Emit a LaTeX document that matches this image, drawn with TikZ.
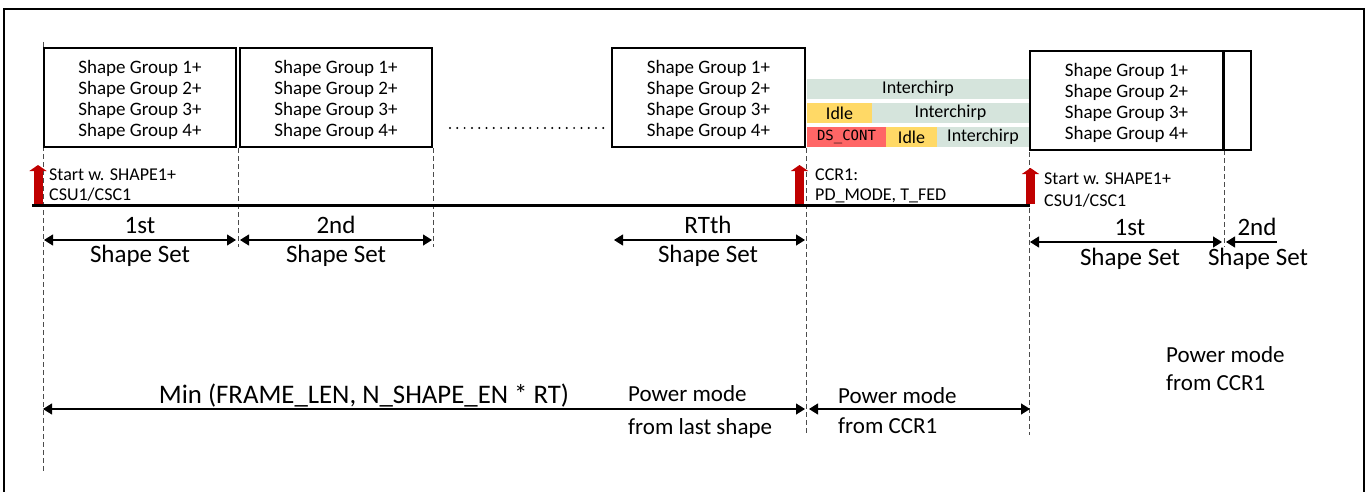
\documentclass[tikz,border=0pt]{standalone}
\usepackage{fontspec}
\setmainfont{Carlito}
\setmonofont{DejaVu Sans Mono}
\usetikzlibrary{arrows.meta}
\definecolor{chirpgreen}{RGB}{213,228,220}
\definecolor{idleyellow}{RGB}{255,217,102}
\definecolor{dsred}{RGB}{255,102,102}
\definecolor{arrowred}{RGB}{192,0,0}
\newcommand{\fsz}[1]{\fontsize{#1}{#1}\selectfont}
\newcommand{\sgtxt}{\rule{0pt}{19pt}Shape Group 1+\\Shape Group 2+\\Shape Group 3+\\Shape Group 4+}
\begin{document}
\begin{tikzpicture}[x=1pt,y=-1pt,
  sg/.style={draw, line width=1.2pt, inner sep=0pt, align=center, font=\fontsize{19}{21}\selectfont},
  seg/.style={inner sep=0pt, minimum height=20pt, font=\fsz{18}},
  chirp/.style={seg, fill=chirpgreen},
  idle/.style={seg, fill=idleyellow},
  dsbox/.style={seg, fill=dsred, font=\fsz{14}\ttfamily},
  guide/.style={dash pattern=on 5pt off 3pt, line width=0.8pt, draw=black!70},
  dim/.style={line width=1.2pt, {Triangle[length=9pt,width=11pt]}-{Triangle[length=9pt,width=11pt]}},
  dimleft/.style={line width=1.2pt, {Triangle[length=9pt,width=11pt]}-},
  redup/.style={draw=arrowred, line width=9pt, -{Triangle[length=6pt,width=17pt]}},
  note/.style={anchor=base west, inner sep=0pt, font=\fsz{18}},
  setlbl/.style={anchor=base, inner sep=0pt, font=\fsz{25}},
  pm/.style={anchor=base west, inner sep=0pt, font=\fsz{23}}
]
\useasboundingbox (0,0) rectangle (1370,492);
% outer frame
\draw[line width=2pt] (4,492) -- (4,9) -- (1364,9) -- (1364,492);

% guide lines
\coordinate (g1t) at (43,42);    \coordinate (g1b) at (43,472);
\coordinate (g2t) at (238,148);  \coordinate (g2b) at (238,247);
\coordinate (g3t) at (433,148);  \coordinate (g3b) at (433,247);
\coordinate (g4t) at (806,148);  \coordinate (g4b) at (806,435);
\coordinate (g5t) at (1029,72);  \coordinate (g5b) at (1029,435);
\coordinate (g6t) at (1224,150); \coordinate (g6b) at (1224,247);
\draw[guide] (g1t) -- (g1b);
\draw[guide] (g2t) -- (g2b);
\draw[guide] (g3t) -- (g3b);
\draw[guide] (g4t) -- (g4b);
\draw[guide] (g5t) -- (g5b);
\draw[guide] (g6t) -- (g6b);

% shape group boxes
\node[sg, minimum width=192pt, minimum height=99pt] (b1) at (140,97.5) {\sgtxt};
\node[sg, minimum width=192pt, minimum height=99pt] (b2) at (336,97.5) {\sgtxt};
\node[sg, minimum width=193pt, minimum height=99pt] (b3) at (708.5,97.5) {\sgtxt};
\node[sg, minimum width=193pt, minimum height=99pt] (b4) at (1126.5,100.5) {\sgtxt};
\node[sg, minimum width=27pt, minimum height=99pt] (b5) at (1237.5,100.5) {};

% dotted continuation
\coordinate (dotL) at (450,128);
\coordinate (dotR) at (610,128);
\draw[line width=2.2pt, line cap=round, dash pattern=on 0pt off 7.3pt] (dotL) -- (dotR);

% interchirp rows
\node[chirp, minimum width=222pt] (ic1) at (918,89) {Interchirp};
\node[idle, minimum width=65pt] (id2) at (839.5,113) {Idle};
\node[chirp, minimum width=157pt] (ic2) at (950.5,113) {Interchirp};
\node[dsbox, minimum width=79pt] (ds3) at (846.5,137) {DS\_CONT};
\node[idle, minimum width=51pt] (id3) at (911.5,137) {Idle};
\node[chirp, minimum width=92pt] (ic3) at (983,137) {Interchirp};

% timeline
\coordinate (tl0) at (32,205);
\coordinate (tl1) at (1030,205);
\draw[line width=3pt] (tl0) -- (tl1);

% red start arrows
\coordinate (r1b) at (38,203.5);   \coordinate (r1t) at (38,165);
\coordinate (r2b) at (799.5,203.5); \coordinate (r2t) at (799.5,165);
\coordinate (r3b) at (1030.5,203.5); \coordinate (r3t) at (1030.5,168);
\draw[redup] (r1b) -- (r1t);
\draw[redup] (r2b) -- (r2t);
\draw[redup] (r3b) -- (r3t);

% notes by the arrows
\node[note] (n1a) at (49,180) {Start w. SHAPE1+};
\node[note] (n1b) at (49,200.5) {CSU1/CSC1};
\node[note] (n2a) at (815,180.5) {CCR1:};
\node[note] (n2b) at (815,200.5) {PD\_MODE, T\_FED};
\node[note] (n3a) at (1044,184) {Start w. SHAPE1+};
\node[note] (n3b) at (1044,206) {CSU1/CSC1};

% shape set dimension arrows
\coordinate (s1l) at (44,240);   \coordinate (s1r) at (236,240);
\coordinate (s2l) at (240,240);  \coordinate (s2r) at (432,240);
\coordinate (s3l) at (614,240);  \coordinate (s3r) at (805,240);
\coordinate (s4l) at (1030,242); \coordinate (s4r) at (1222,242);
\coordinate (s5l) at (1226,242); \coordinate (s5r) at (1277,242);
\draw[dim] (s1l) -- (s1r);
\draw[dim] (s2l) -- (s2r);
\draw[dim] (s3l) -- (s3r);
\draw[dim] (s4l) -- (s4r);
\draw[dimleft] (s5l) -- (s5r);

\node[setlbl] (l1a) at (140,233) {1st};
\node[setlbl] (l1b) at (140,262) {Shape Set};
\node[setlbl] (l2a) at (336,233) {2nd};
\node[setlbl] (l2b) at (336,262) {Shape Set};
\node[setlbl] (l3a) at (708,233) {RTth};
\node[setlbl] (l3b) at (708,262) {Shape Set};
\node[setlbl] (l4a) at (1130,235) {1st};
\node[setlbl] (l4b) at (1130,265) {Shape Set};
\node[setlbl] (l5a) at (1257,235) {2nd};
\node[setlbl] (l5b) at (1258,265) {Shape Set};

% bottom dimension arrows
\coordinate (m1l) at (43,409);  \coordinate (m1r) at (805,409);
\coordinate (m2l) at (809,409); \coordinate (m2r) at (1030,409);
\draw[dim] (m1l) -- (m1r);
\draw[dim] (m2l) -- (m2r);

\node[anchor=base, inner sep=0pt, font=\fsz{26.8}] (minlbl) at (364,403) {Min (FRAME\_LEN, N\_SHAPE\_EN * RT)};
\node[pm] (p1a) at (628,401) {Power mode};
\node[pm] (p1b) at (628,434) {from last shape};
\node[pm] (p2a) at (838,403) {Power mode};
\node[pm] (p2b) at (838,433) {from CCR1};
\node[pm] (p3a) at (1166,362) {Power mode};
\node[pm] (p3b) at (1166,390) {from CCR1};
\end{tikzpicture}
\end{document}
